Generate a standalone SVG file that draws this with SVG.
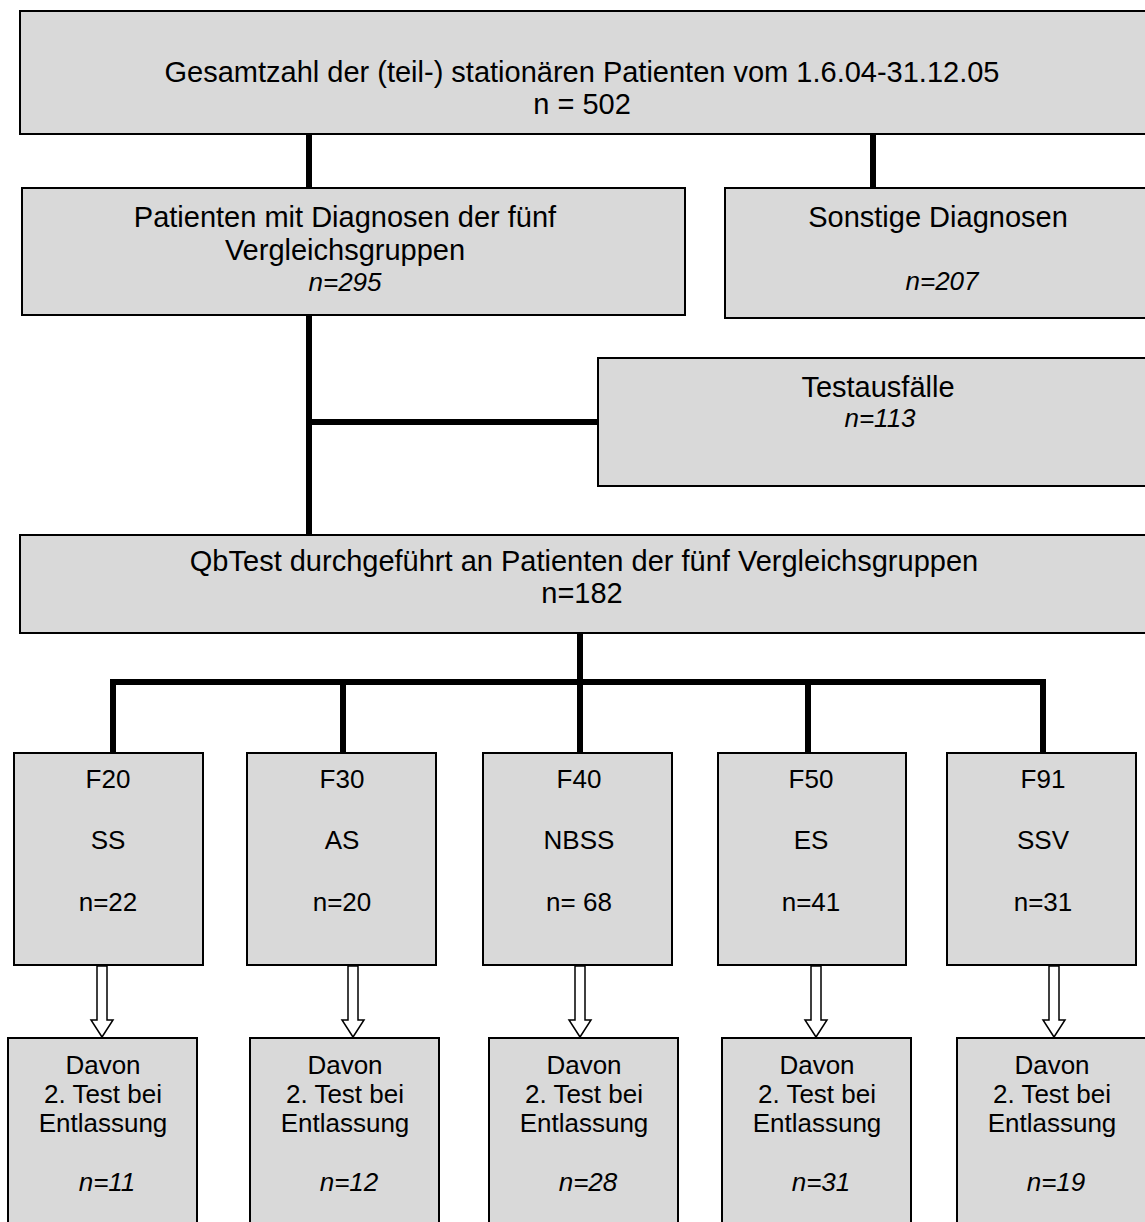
<svg xmlns="http://www.w3.org/2000/svg" width="1145" height="1222" viewBox="0 0 1145 1222">
<style>
.box{fill:#d9d9d9;stroke:#000;stroke-width:2}
.t{font-family:"Liberation Sans",Arial,sans-serif;fill:#000;text-anchor:middle}
.big{font-size:29px}
.mid{font-size:26px}
.it{font-style:italic}
.con{stroke:#000;stroke-width:6;fill:none;stroke-linecap:square}
.arr{fill:#fff;stroke:#000;stroke-width:1.5;stroke-linejoin:miter}
</style>
<rect width="1145" height="1222" fill="#fff"/>
<g id="connectors">
<line class="con" x1="309" y1="136" x2="309" y2="186"/>
<line class="con" x1="873" y1="136" x2="873" y2="186"/>
<line class="con" x1="309" y1="317" x2="309" y2="533"/>
<line class="con" x1="312" y1="422" x2="596" y2="422"/>
<line class="con" x1="580" y1="635" x2="580" y2="682"/>
<polyline class="con" points="113,751 113,682 1043,682 1043,751"/>
<line class="con" x1="343" y1="682" x2="343" y2="751"/>
<line class="con" x1="580" y1="682" x2="580" y2="751"/>
<line class="con" x1="808" y1="682" x2="808" y2="751"/>
<path class="arr" d="M97,966 V1020 H91 L102,1037 L113,1020 H107 V966 Z"/>
<path class="arr" d="M348,966 V1020 H342 L353,1037 L364,1020 H358 V966 Z"/>
<path class="arr" d="M575,966 V1020 H569 L580,1037 L591,1020 H585 V966 Z"/>
<path class="arr" d="M811,966 V1020 H805 L816,1037 L827,1020 H821 V966 Z"/>
<path class="arr" d="M1049,966 V1020 H1043 L1054,1037 L1065,1020 H1059 V966 Z"/>
</g>
<g id="n_total">
<rect class="box" x="20" y="11" width="1130" height="123"/>
<text class="t big" x="582" y="82">Gesamtzahl der (teil-) stationären Patienten vom 1.6.04-31.12.05</text>
<text class="t big" x="582" y="114">n = 502</text>
</g>
<g id="n_diag">
<rect class="box" x="22" y="188" width="663" height="127"/>
<text class="t big" x="345" y="227">Patienten mit Diagnosen der fünf</text>
<text class="t big" x="345" y="260">Vergleichsgruppen</text>
<text class="t mid it" x="345" y="291">n=295</text>
</g>
<g id="n_sonst">
<rect class="box" x="725" y="188" width="425" height="130"/>
<text class="t big" x="938" y="227">Sonstige Diagnosen</text>
<text class="t mid it" x="942" y="290">n=207</text>
</g>
<g id="n_ausf">
<rect class="box" x="598" y="358" width="552" height="128"/>
<text class="t big" x="878" y="397">Testausfälle</text>
<text class="t mid it" x="880" y="427">n=113</text>
</g>
<g id="n_qb">
<rect class="box" x="20" y="535" width="1130" height="98"/>
<text class="t big" x="584" y="571">QbTest durchgeführt an Patienten der fünf Vergleichsgruppen</text>
<text class="t big" x="582" y="603">n=182</text>
</g>
<g id="n_f20">
<rect class="box" x="14" y="753" width="189" height="212"/>
<text class="t mid" x="108" y="788">F20</text>
<text class="t mid" x="108" y="849">SS</text>
<text class="t mid" x="108" y="911">n=22</text>
</g>
<g id="n_f30">
<rect class="box" x="247" y="753" width="189" height="212"/>
<text class="t mid" x="342" y="788">F30</text>
<text class="t mid" x="342" y="849">AS</text>
<text class="t mid" x="342" y="911">n=20</text>
</g>
<g id="n_f40">
<rect class="box" x="483" y="753" width="189" height="212"/>
<text class="t mid" x="579" y="788">F40</text>
<text class="t mid" x="579" y="849">NBSS</text>
<text class="t mid" x="579" y="911">n= 68</text>
</g>
<g id="n_f50">
<rect class="box" x="718" y="753" width="188" height="212"/>
<text class="t mid" x="811" y="788">F50</text>
<text class="t mid" x="811" y="849">ES</text>
<text class="t mid" x="811" y="911">n=41</text>
</g>
<g id="n_f91">
<rect class="box" x="947" y="753" width="189" height="212"/>
<text class="t mid" x="1043" y="788">F91</text>
<text class="t mid" x="1043" y="849">SSV</text>
<text class="t mid" x="1043" y="911">n=31</text>
</g>
<g id="n_d20">
<rect class="box" x="8" y="1038" width="189" height="200"/>
<text class="t mid" x="103" y="1074">Davon</text>
<text class="t mid" x="103" y="1103">2. Test bei</text>
<text class="t mid" x="103" y="1132">Entlassung</text>
<text class="t mid it" x="107" y="1191">n=11</text>
</g>
<g id="n_d30">
<rect class="box" x="250" y="1038" width="189" height="200"/>
<text class="t mid" x="345" y="1074">Davon</text>
<text class="t mid" x="345" y="1103">2. Test bei</text>
<text class="t mid" x="345" y="1132">Entlassung</text>
<text class="t mid it" x="349" y="1191">n=12</text>
</g>
<g id="n_d40">
<rect class="box" x="489" y="1038" width="189" height="200"/>
<text class="t mid" x="584" y="1074">Davon</text>
<text class="t mid" x="584" y="1103">2. Test bei</text>
<text class="t mid" x="584" y="1132">Entlassung</text>
<text class="t mid it" x="588" y="1191">n=28</text>
</g>
<g id="n_d50">
<rect class="box" x="722" y="1038" width="189" height="200"/>
<text class="t mid" x="817" y="1074">Davon</text>
<text class="t mid" x="817" y="1103">2. Test bei</text>
<text class="t mid" x="817" y="1132">Entlassung</text>
<text class="t mid it" x="821" y="1191">n=31</text>
</g>
<g id="n_d91">
<rect class="box" x="957" y="1038" width="200" height="200"/>
<text class="t mid" x="1052" y="1074">Davon</text>
<text class="t mid" x="1052" y="1103">2. Test bei</text>
<text class="t mid" x="1052" y="1132">Entlassung</text>
<text class="t mid it" x="1056" y="1191">n=19</text>
</g>
</svg>
